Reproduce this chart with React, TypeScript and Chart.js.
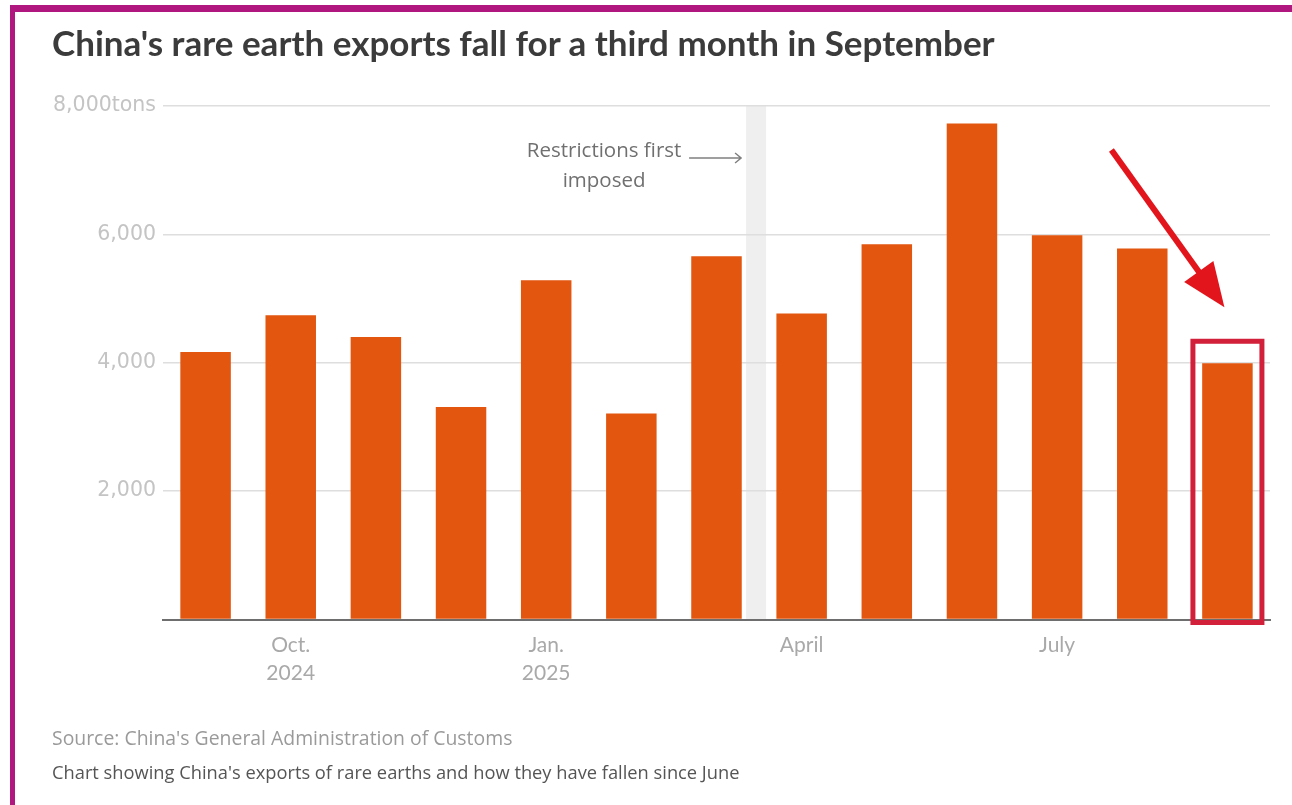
import React, { useEffect, useRef } from "react";
import { Chart, registerables } from "chart.js";

Chart.register(...registerables);

const months = ["Sep 2024", "Oct 2024", "Nov 2024", "Dec 2024", "Jan 2025", "Feb 2025", "Mar 2025", "Apr 2025", "May 2025", "Jun 2025", "Jul 2025", "Aug 2025", "Sep 2025"];
const exportTons = [4168, 4740, 4402, 3312, 5285, 3209, 5659, 4766, 5846, 7726, 5986, 5779, 3992];
const xTickLabels: (string | string[])[] = ["", ["Oct.", "2024"], "", "", ["Jan.", "2025"], "", "", "April", "", "", "July", "", ""];
const yTickValues = [0, 2000, 4000, 6000, 8000];
const yTopLabel = "8,000tons";
const restrictionIndex = 7; // April 2025: restrictions first imposed before this bar
const annotationLines = ["Restrictions first", "imposed"];

const TITLE = "China's rare earth exports fall for a third month in September";
const SOURCE = "Source: China's General Administration of Customs";
const NOTE = "Chart showing China's exports of rare earths and how they have fallen since June";

const FONT = "Lato, 'Open Sans', sans-serif";
const FONT_OS = "'Open Sans', Lato, sans-serif";
const FONT_TICK = "'DejaVu Sans', 'Open Sans', sans-serif";

const overlayPlugin = {
  id: "overlay",
  beforeDraw(chart: any) {
    const { ctx, chartArea, scales } = chart;
    const x = scales.x;
    const bx = (x.getPixelForValue(restrictionIndex - 1) + x.getPixelForValue(restrictionIndex)) / 2 - 3;
    ctx.save();
    ctx.fillStyle = "#efefef";
    ctx.fillRect(bx - 10, chartArea.top, 20, chartArea.bottom - chartArea.top);
    ctx.restore();
  },
  afterDraw(chart: any) {
    const { ctx, chartArea, scales } = chart;
    const x = scales.x;
    const y = scales.y;
    const bx = (x.getPixelForValue(restrictionIndex - 1) + x.getPixelForValue(restrictionIndex)) / 2 - 3;
    ctx.save();
    // annotation text
    ctx.fillStyle = "#707070";
    ctx.font = `20.5px ${FONT_OS}`;
    ctx.textAlign = "center";
    ctx.textBaseline = "middle";
    const tx = bx - 152;
    ctx.fillText(annotationLines[0], tx, chartArea.top + 45);
    ctx.fillText(annotationLines[1], tx, chartArea.top + 75);
    // gray arrow
    const ay = chartArea.top + 52;
    const ax0 = bx - 67;
    const ax1 = bx - 15;
    ctx.strokeStyle = "#808080";
    ctx.lineWidth = 1.5;
    ctx.beginPath();
    ctx.moveTo(ax0, ay);
    ctx.lineTo(ax1, ay);
    ctx.moveTo(ax1 - 6, ay - 5);
    ctx.lineTo(ax1, ay);
    ctx.lineTo(ax1 - 6, ay + 5);
    ctx.stroke();

    // red box around last bar
    const last = exportTons.length - 1;
    const cx = x.getPixelForValue(last);
    const topY = y.getPixelForValue(exportTons[last]);
    ctx.strokeStyle = "#d3203a";
    ctx.lineWidth = 5;
    ctx.strokeRect(cx - 34.5, topY - 22, 69, chartArea.bottom + 3 - (topY - 22));

    // red arrow
    const tipX = cx - 3;
    const tipY = topY - 56;
    const tailX = cx - 116;
    const tailY = chartArea.top + 44;
    const ang = Math.atan2(tipY - tailY, tipX - tailX);
    const headLen = 44;
    const headW = 18;
    const baseX = tipX - headLen * Math.cos(ang);
    const baseY = tipY - headLen * Math.sin(ang);
    ctx.strokeStyle = "#e3151c";
    ctx.fillStyle = "#e3151c";
    ctx.lineWidth = 6;
    ctx.lineCap = "butt";
    ctx.beginPath();
    ctx.moveTo(tailX, tailY);
    ctx.lineTo(baseX + 6 * Math.cos(ang), baseY + 6 * Math.sin(ang));
    ctx.stroke();
    ctx.beginPath();
    ctx.moveTo(tipX, tipY);
    ctx.lineTo(baseX + headW * Math.sin(ang), baseY - headW * Math.cos(ang));
    ctx.lineTo(baseX - headW * Math.sin(ang), baseY + headW * Math.cos(ang));
    ctx.closePath();
    ctx.fill();
    ctx.restore();
  },
};

function RareEarthChart() {
  const canvasRef = useRef<HTMLCanvasElement | null>(null);

  useEffect(() => {
    if (!canvasRef.current) return;
    const chart = new Chart(canvasRef.current, {
      type: "bar",
      data: {
        labels: months,
        datasets: [
          {
            label: "Rare earth exports (tons)",
            data: exportTons,
            backgroundColor: "#e2560f",
            borderWidth: 0,
            barPercentage: 0.593,
            categoryPercentage: 1,
          },
        ],
      },
      options: {
        animation: false,
        responsive: false,
        maintainAspectRatio: false,
        events: [],
        layout: { padding: { left: 0, top: 106, right: 22, bottom: 105.5 } },
        plugins: { legend: { display: false }, tooltip: { enabled: false }, title: { display: false } },
        scales: {
          x: {
            grid: { display: false, drawTicks: false },
            border: { display: true, color: "#6e6e6e", width: 2 },
            ticks: {
              autoSkip: false,
              maxRotation: 0,
              minRotation: 0,
              padding: 12,
              color: "#a9a9a9",
              font: { family: FONT, size: 21, lineHeight: 1.33 },
              callback: (_v: any, i: number) => xTickLabels[i],
            },
            afterFit: (s: any) => {
              s.height = 80;
            },
          },
          y: {
            min: 0,
            max: 8000,
            afterBuildTicks: (s: any) => {
              s.ticks = yTickValues.map((v) => ({ value: v }));
            },
            grid: {
              drawTicks: false,
              lineWidth: 1.5,
              color: (c: any) => (c.tick && c.tick.value === 0 ? "rgba(0,0,0,0)" : "#dedede"),
            },
            border: { display: false },
            ticks: {
              padding: 7,
              color: "#c4c4c4",
              font: { family: FONT_TICK, size: 20.5 },
              callback: (v: any) => {
                const n = Number(v);
                if (n === 0) return "";
                if (n === 8000) return yTopLabel;
                return n.toLocaleString("en-US");
              },
            },
            afterFit: (s: any) => {
              s.width = 163;
            },
          },
        },
      },
      plugins: [overlayPlugin],
    });
    return () => chart.destroy();
  }, []);

  return <canvas ref={canvasRef} width={1292} height={805} style={{ position: "absolute", left: 0, top: 0 }} />;
}

export default function App() {
  return (
    <div
      style={{
        position: "absolute",
        left: 0,
        top: 0,
        width: 1292,
        height: 805,
        background: "#ffffff",
        overflow: "hidden",
        fontFamily: FONT,
      }}
    >
      <RareEarthChart />
      <div style={{ position: "absolute", left: 10, top: 5, width: 1282, height: 7, background: "#b0177f" }} />
      <div style={{ position: "absolute", left: 10, top: 5, width: 5, height: 800, background: "#b0177f" }} />
      <div
        style={{
          position: "absolute",
          left: 52,
          top: 20,
          fontSize: 35,
          fontWeight: 700,
          color: "#3b3b3b",
          whiteSpace: "nowrap",
          lineHeight: "44px",
        }}
      >
        {TITLE}
      </div>
      <div
        style={{
          position: "absolute",
          left: 52,
          top: 726,
          fontSize: 19.4,
          fontFamily: FONT_OS,
          color: "#9a9a9a",
          whiteSpace: "nowrap",
          lineHeight: "24px",
        }}
      >
        {SOURCE}
      </div>
      <div
        style={{
          position: "absolute",
          left: 52,
          top: 760,
          fontSize: 18.3,
          fontFamily: FONT_OS,
          color: "#555555",
          whiteSpace: "nowrap",
          lineHeight: "24px",
        }}
      >
        {NOTE}
      </div>
    </div>
  );
}
